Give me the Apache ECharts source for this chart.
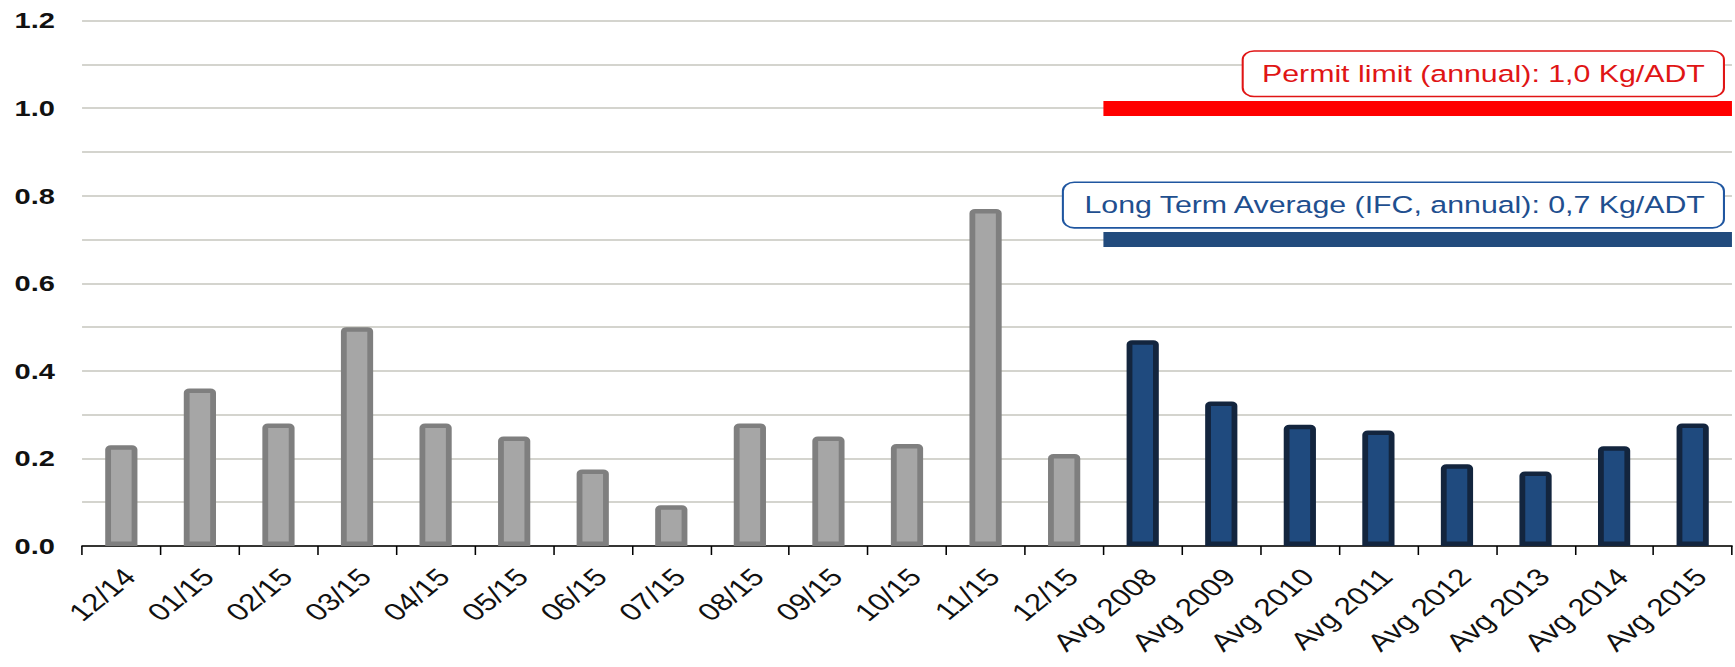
<!DOCTYPE html>
<html>
<head>
<meta charset="utf-8">
<script src="https://cdn.jsdelivr.net/npm/echarts@6/dist/echarts.min.js"></script>
<style>
  html, body { margin: 0; padding: 0; background: #fff; overflow: hidden; }
  #wrap { width: 1735px; height: 667px; overflow: hidden; }
  /* the reference picture is stretched horizontally; draw narrower and stretch */
  #chart { width: 1345px; height: 667px; transform: scaleX(1.29); transform-origin: 0 0; }
</style>
</head>
<body>
<div id="wrap"><div id="chart"></div></div>
<script>
// ---- data ----
const monthLabels = ['12/14', '01/15', '02/15', '03/15', '04/15', '05/15', '06/15', '07/15', '08/15', '09/15', '10/15', '11/15', '12/15'];
const monthValues = [0.23, 0.36, 0.28, 0.50, 0.28, 0.25, 0.175, 0.093, 0.28, 0.25, 0.233, 0.77, 0.21];
const avgLabels = ['Avg 2008', 'Avg 2009', 'Avg 2010', 'Avg 2011', 'Avg 2012', 'Avg 2013', 'Avg 2014', 'Avg 2015'];
const avgValues = [0.47, 0.33, 0.277, 0.264, 0.187, 0.17, 0.228, 0.28];
const permitLimit = 1.0;
const permitText = 'Permit limit (annual): 1,0 Kg/ADT';
const ltaLimit = 0.7;
const ltaText = 'Long Term Average (IFC, annual): 0,7 Kg/ADT';
const yTicks = { min: 0, max: 1.2, interval: 0.2 };

// ---- derived ----
const categories = monthLabels.concat(avgLabels);
const monthData = monthValues.concat(avgLabels.map(() => null));
const avgData = monthLabels.map(() => null).concat(avgValues);
const startIdx = categories.indexOf(avgLabels[0]);
const endIdx = categories.length;

const FONT = "'Liberation Sans', Arial, sans-serif";

function limitSeries(value, text, lineColor, boxColor, textColor) {
  return {
    type: 'line',
    xAxisIndex: 1,
    yAxisIndex: 0,
    data: [[startIdx, value], [endIdx, value]],
    symbol: 'none',
    silent: true,
    lineStyle: { width: 0, opacity: 0 },
    z: 5,
    markLine: {
      silent: true,
      animation: false,
      symbol: ['none', 'none'],
      lineStyle: { color: lineColor, width: 15, type: 'solid', cap: 'butt' },
      label: {
        show: true,
        position: 'insideEndTop',
        distance: [7, 12.5],
        formatter: text,
        color: textColor,
        fontFamily: FONT,
        fontSize: 23.5,
        lineHeight: 26,
        backgroundColor: '#ffffff',
        borderColor: boxColor,
        borderWidth: 1.6,
        borderRadius: 8,
        padding: [9, 14, 9, 14]
      },
      data: [[{ coord: [startIdx, value] }, { coord: [endIdx, value] }]]
    }
  };
}

const chart = echarts.init(document.getElementById('chart'), null, { renderer: 'svg', width: 1345, height: 667 });
chart.setOption({
  animation: false,
  backgroundColor: '#ffffff',
  grid: { left: 63.6, right: 2.4, top: 20.7, bottom: 121, containLabel: false },
  xAxis: [
    {
      type: 'category',
      data: categories,
      boundaryGap: true,
      axisLine: { show: true, lineStyle: { color: '#000', width: 1.5 } },
      axisTick: { show: true, length: 9, lineStyle: { color: '#000', width: 1.2 }, alignWithLabel: false },
      axisLabel: { rotate: 46, margin: 33, padding: [0, -9, 0, 0], fontSize: 24.5, fontFamily: FONT, color: '#111', interval: 0 },
      splitLine: { show: false }
    },
    { type: 'value', min: 0, max: endIdx, show: false }
  ],
  yAxis: {
    type: 'value',
    min: yTicks.min,
    max: yTicks.max,
    interval: yTicks.interval,
    axisLine: { show: false },
    axisTick: { show: false },
    axisLabel: {
      margin: 21,
      fontSize: 22.5,
      fontWeight: 'bold',
      fontFamily: FONT,
      color: '#111',
      formatter: v => v.toFixed(1)
    },
    splitLine: { show: true, lineStyle: { color: '#c6c6be', width: 1.5 } },
    minorTick: { show: false, splitNumber: 2 },
    minorSplitLine: { show: true, lineStyle: { color: '#c6c6be', width: 1.5 } }
  },
  series: [
    {
      type: 'bar',
      data: monthData,
      barWidth: '41%',
      barGap: '-100%',
      itemStyle: { color: '#a6a6a6', borderColor: '#7f7f7f', borderWidth: 4.5, borderRadius: [2, 2, 0, 0] },
      z: 3
    },
    {
      type: 'bar',
      data: avgData,
      barWidth: '41%',
      barGap: '-100%',
      itemStyle: { color: '#1f4a7e', borderColor: '#13253e', borderWidth: 4.5, borderRadius: [2, 2, 0, 0] },
      z: 3
    },
    limitSeries(permitLimit, permitText, '#ff0000', '#e01515', '#e01515'),
    limitSeries(ltaLimit, ltaText, '#224b7d', '#1f56a0', '#1f4f8f')
  ]
});
</script>
</body>
</html>
